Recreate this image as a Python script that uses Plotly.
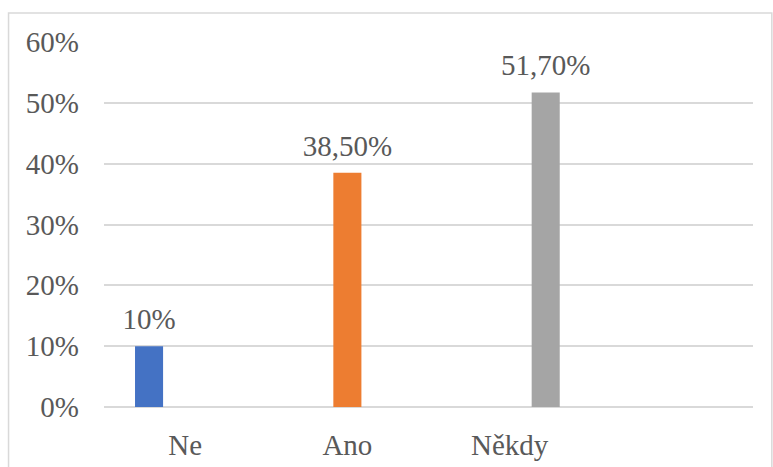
import plotly.graph_objects as go

categories = ["Ne", "Ano", "Někdy"]
values = [0.10, 0.385, 0.517]
labels = ["10%", "38,50%", "51,70%"]
colors = ["#4472C4", "#ED7D31", "#A5A5A5"]

font = dict(family="Liberation Serif, Times New Roman, serif", size=29, color="#595959")

fig = go.Figure()
for i, (cat, val, lab, col) in enumerate(zip(categories, values, labels, colors)):
    # each series has a value only in its own category (Excel clustered layout)
    ys = [val if j == i else None for j in range(len(categories))]
    txt = [lab if j == i else "" for j in range(len(categories))]
    fig.add_trace(go.Bar(
        x=categories,
        y=ys,
        name=cat,
        offsetgroup=str(i),
        marker=dict(color=col, line=dict(width=0)),
        hoverinfo="skip",
    ))
    # data labels, grouped the same way as the bars
    fig.add_trace(go.Scatter(
        x=categories,
        y=ys,
        mode="markers+text",
        text=txt,
        textposition="top center",
        textfont=font,
        marker=dict(size=14, opacity=0),
        offsetgroup=str(i),
        cliponaxis=False,
        hoverinfo="skip",
    ))

fig.update_layout(
    width=773,
    height=467,
    margin=dict(l=104, r=20, t=42, b=60, autoexpand=False),
    paper_bgcolor="white",
    plot_bgcolor="white",
    barmode="group",
    scattermode="group",
    bargap=0.333,
    bargroupgap=0.222,
    showlegend=False,
    font=font,
    shapes=[dict(
        type="rect", xref="paper", yref="paper",
        x0=-0.1471, x1=1.029, y0=-0.2, y1=1.0795,
        line=dict(color="#d9d9d9", width=1.5),
        fillcolor="rgba(0,0,0,0)", layer="below",
    )],
)
fig.update_xaxes(
    type="category",
    categoryorder="array",
    categoryarray=categories,
    range=[-0.5, 3.5],
    automargin=False,
    showgrid=False,
    showline=False,
    ticks="",
    ticklabelstandoff=18,
    tickfont=font,
)
fig.update_yaxes(
    range=[0, 0.6],
    dtick=0.1,
    tickformat=".0%",
    automargin=False,
    showgrid=True,
    gridcolor="#d9d9d9",
    gridwidth=1.5,
    zeroline=True,
    zerolinecolor="#d9d9d9",
    zerolinewidth=1.5,
    showline=False,
    ticks="",
    ticklabelstandoff=24,
    tickfont=font,
)

fig.write_html(
    "out.html",
    config={"displayModeBar": False},
    post_script="document.body.style.margin='0';",
)
